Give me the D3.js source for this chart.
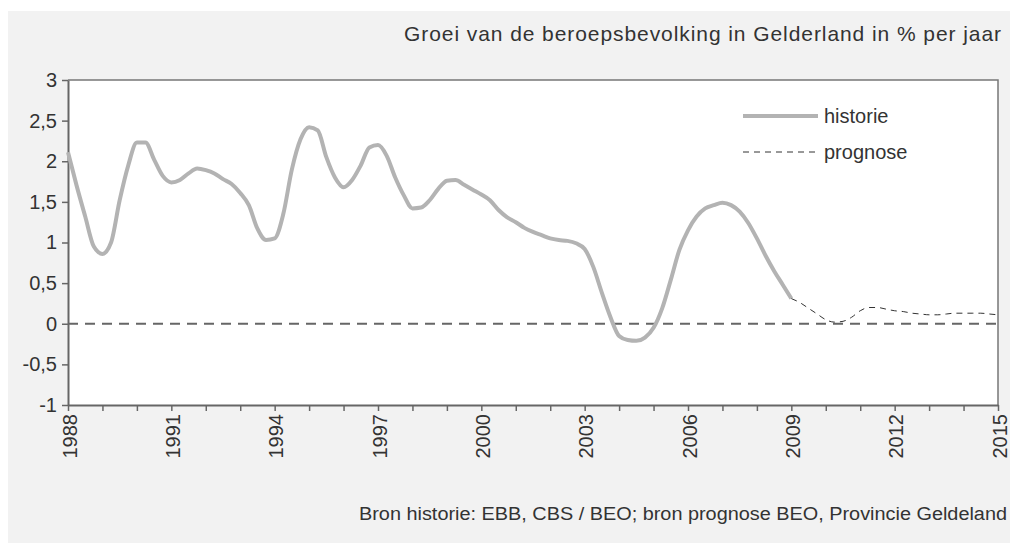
<!DOCTYPE html>
<html>
<head>
<meta charset="utf-8">
<script src="https://cdnjs.cloudflare.com/ajax/libs/d3/7.8.5/d3.min.js"></script>
<style>
  body { margin: 0; background: #fff; }
  svg { display: block; font-family: "Liberation Sans", Arial, sans-serif; }
  .axis path, .axis line { stroke: #666; }
  .axis text { fill: #333; font-size: 20px; }
</style>
</head>
<body>
<div id="chart"></div>
<script>
// kwartaalwaarden, historie vanaf 1988 Q1
var histStart = 1988;
var histValues = [
  2.11, 1.70, 1.32, 0.95, 0.86, 1.00, 1.52, 1.95,
  2.23, 2.23, 2.02, 1.82, 1.74, 1.77, 1.85, 1.91,
  1.89, 1.85, 1.78, 1.72, 1.61, 1.46, 1.17, 1.03,
  1.05, 1.35, 1.90, 2.27, 2.42, 2.38, 2.05, 1.80,
  1.68, 1.77, 1.95, 2.17, 2.20, 2.07, 1.80, 1.58,
  1.42, 1.43, 1.52, 1.66, 1.76, 1.77, 1.71, 1.65,
  1.59, 1.52, 1.40, 1.31, 1.25, 1.18, 1.13, 1.09,
  1.05, 1.03, 1.02, 0.99, 0.92, 0.70, 0.38, 0.08,
  -0.15, -0.20, -0.21, -0.17, -0.05, 0.19, 0.54, 0.91,
  1.15, 1.32, 1.42, 1.46, 1.49, 1.46, 1.38, 1.24,
  1.05, 0.84, 0.65, 0.48, 0.31
];
// prognose vanaf 2009 Q1
var progStart = 2009;
var progValues = [
  0.31, 0.26, 0.19, 0.12, 0.05, 0.02, 0.03, 0.08,
  0.16, 0.20, 0.20, 0.18, 0.16, 0.15, 0.13, 0.12,
  0.11, 0.11, 0.12, 0.13, 0.13, 0.13, 0.13, 0.12, 0.11
];
var yTicks = [-1, -0.5, 0, 0.5, 1, 1.5, 2, 2.5, 3];
var xLabelYears = [1988, 1991, 1994, 1997, 2000, 2003, 2006, 2009, 2012, 2015];
var titleText = "Groei van de beroepsbevolking in Gelderland in % per jaar";
var sourceText = "Bron historie: EBB, CBS / BEO; bron prognose BEO, Provincie Geldeland";
var legendItems = ["historie", "prognose"];

var W = 1011, H = 544;
var plot = {left: 68, top: 80, right: 998, bottom: 405};

var svg = d3.select("#chart").append("svg")
    .attr("width", W).attr("height", H);

svg.append("rect")
    .attr("x", 8).attr("y", 11).attr("width", 1002).attr("height", 532)
    .attr("fill", "#f2f2f2");

svg.append("rect")
    .attr("x", plot.left).attr("y", plot.top)
    .attr("width", plot.right - plot.left).attr("height", plot.bottom - plot.top)
    .attr("fill", "#fff");

var x = d3.scaleLinear().domain([1988, 2015]).range([plot.left, plot.right]);
var y = d3.scaleLinear().domain([-1, 3]).range([plot.bottom, plot.top]);

var nl = d3.formatLocale({decimal: ",", thousands: ".", grouping: [3], currency: ["€", ""], minus: "-"});
var fmt = nl.format("");

// rand boven en rechts
svg.append("path")
    .attr("d", "M" + plot.left + "," + plot.top + "H" + plot.right + "V" + plot.bottom)
    .attr("fill", "none").attr("stroke", "#777").attr("stroke-width", 1.5);

// y-as
var yAxis = svg.append("g")
    .attr("class", "axis")
    .attr("transform", "translate(" + plot.left + ",0)")
    .call(d3.axisLeft(y).tickValues(yTicks).tickSize(6).tickSizeOuter(0).tickFormat(function(d) { return fmt(d); }));
yAxis.select(".domain").attr("stroke-width", 2);
yAxis.selectAll(".tick line").attr("stroke-width", 1.5);
yAxis.selectAll("text").attr("x", -11);

// x-as
var allYears = d3.range(1988, 2016);
var xAxis = svg.append("g")
    .attr("class", "axis")
    .attr("transform", "translate(0," + plot.bottom + ")")
    .call(d3.axisBottom(x).tickValues(allYears).tickSize(6).tickSizeOuter(0)
        .tickFormat(function(d) { return xLabelYears.indexOf(d) >= 0 ? d : ""; }));
xAxis.select(".domain").attr("stroke-width", 2);
xAxis.selectAll(".tick line").attr("stroke-width", 1.5);
xAxis.selectAll("text")
    .attr("transform", "translate(1,9) rotate(-90)")
    .attr("x", 0).attr("y", 0).attr("dy", "0.35em")
    .attr("text-anchor", "end");

// nullijn
svg.append("line")
    .attr("x1", plot.left).attr("x2", plot.right)
    .attr("y1", y(0)).attr("y2", y(0))
    .attr("stroke", "#666").attr("stroke-width", 2)
    .attr("stroke-dasharray", "10,7");

var line = d3.line()
    .x(function(d) { return x(d.t); })
    .y(function(d) { return y(d.v); })
    .curve(d3.curveMonotoneX);

var hist = histValues.map(function(v, i) { return {t: histStart + i / 4, v: v}; });
var prog = progValues.map(function(v, i) { return {t: progStart + i / 4, v: v}; });

svg.append("path")
    .datum(hist)
    .attr("d", line)
    .attr("fill", "none")
    .attr("stroke", "#b3b3b3")
    .attr("stroke-width", 4)
    .attr("stroke-linejoin", "round");

svg.append("path")
    .datum(prog)
    .attr("d", line)
    .attr("fill", "none")
    .attr("stroke", "#333")
    .attr("stroke-width", 1)
    .attr("stroke-dasharray", "6,5");

// legenda
var legend = svg.append("g").attr("transform", "translate(743,116)");
legend.append("line")
    .attr("x1", 0).attr("x2", 75).attr("y1", 0).attr("y2", 0)
    .attr("stroke", "#b3b3b3").attr("stroke-width", 4);
legend.append("line")
    .attr("x1", 0).attr("x2", 75).attr("y1", 36).attr("y2", 36)
    .attr("stroke", "#333").attr("stroke-width", 1).attr("stroke-dasharray", "6,5");
legend.selectAll("text.leg")
    .data(legendItems)
    .enter().append("text")
    .attr("class", "leg")
    .attr("x", 81)
    .attr("y", function(d, i) { return i * 36; })
    .attr("dy", "0.35em")
    .attr("fill", "#333")
    .style("font-size", "20px")
    .text(function(d) { return d; });

// titel en bron
svg.append("text")
    .attr("x", 1001).attr("y", 41)
    .attr("text-anchor", "end")
    .attr("fill", "#333")
    .style("font-size", "21px")
    .attr("textLength", 597)
    .attr("lengthAdjust", "spacing")
    .text(titleText);

svg.append("text")
    .attr("x", 1007).attr("y", 520)
    .attr("text-anchor", "end")
    .attr("fill", "#333")
    .style("font-size", "18px")
    .attr("textLength", 648)
    .attr("lengthAdjust", "spacingAndGlyphs")
    .text(sourceText);
</script>
</body>
</html>
